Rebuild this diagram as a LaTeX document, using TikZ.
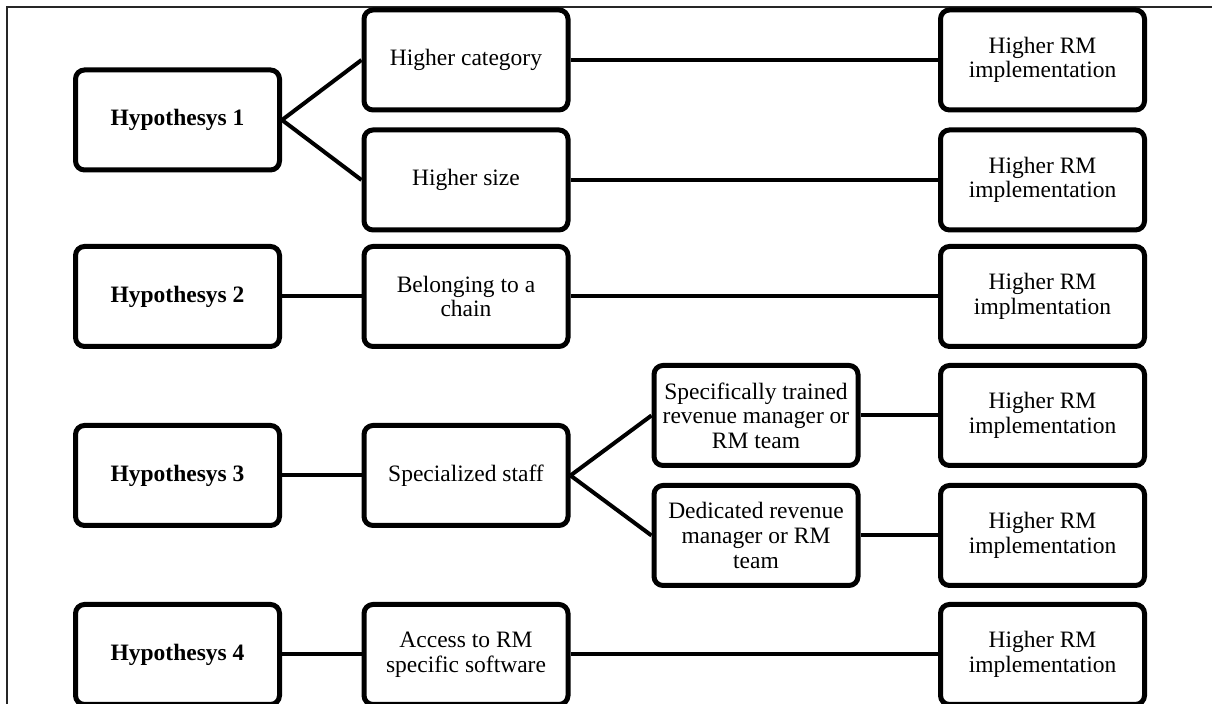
\documentclass[tikz,border=0pt]{standalone}
\usepackage{fontspec}
\setmainfont{Liberation Serif}
\begin{document}
\begin{tikzpicture}[x=0.5pt,y=-0.5pt,
  box/.style={draw=black, line width=2.5pt, rounded corners=4.5pt, fill=white,
    minimum width=102pt, minimum height=50pt, inner sep=1pt, align=center,
    font=\fontsize{11.75}{12.3}\selectfont},
  hyp/.style={box, font=\fontsize{11.75}{12.3}\selectfont\bfseries},
  link/.style={line width=2pt},
  frame/.style={line width=1pt, draw=black!85}]
\useasboundingbox (0,0) rectangle (1212,704);
\draw[frame] (7,704) -- (7,7) -- (1212,7);
% column x: 177.5, 466, 756, 1042.5
\node[hyp] (h1) at (177.5,120) {Hypothesys 1};
\node[box] (hc) at (466,60) {Higher category};
\node[box] (hs) at (466,180) {Higher size};
\node[box] (r1) at (1042.5,60) {Higher RM\\implementation};
\node[box] (r2) at (1042.5,180) {Higher RM\\implementation};
\node[hyp] (h2) at (177.5,296.5) {Hypothesys 2};
\node[box] (bc) at (466,296.5) {Belonging to a\\chain};
\node[box] (r3) at (1042.5,296.5) {Higher RM\\implmentation};
\node[hyp] (h3) at (177.5,475.5) {Hypothesys 3};
\node[box] (ss) at (466,475.5) {Specialized staff};
\node[box] (st) at (756,415.5) {Specifically trained\\revenue manager or\\RM team};
\node[box] (dr) at (756,535.5) {Dedicated revenue\\manager or RM\\team};
\node[box] (r4) at (1042.5,415.5) {Higher RM\\implementation};
\node[box] (r5) at (1042.5,535.5) {Higher RM\\implementation};
\node[hyp] (h4) at (177.5,654.5) {Hypothesys 4};
\node[box] (ac) at (466,654.5) {Access to RM\\specific software};
\node[box] (r6) at (1042.5,654.5) {Higher RM\\implementation};
\draw[link] (h1.east) -- (hc.west);
\draw[link] (h1.east) -- (hs.west);
\draw[link] (hc.east) -- (r1.west);
\draw[link] (hs.east) -- (r2.west);
\draw[link] (h2.east) -- (bc.west);
\draw[link] (bc.east) -- (r3.west);
\draw[link] (h3.east) -- (ss.west);
\draw[link] (ss.east) -- (st.west);
\draw[link] (ss.east) -- (dr.west);
\draw[link] (st.east) -- (r4.west);
\draw[link] (dr.east) -- (r5.west);
\draw[link] (h4.east) -- (ac.west);
\draw[link] (ac.east) -- (r6.west);
\end{tikzpicture}
\end{document}
